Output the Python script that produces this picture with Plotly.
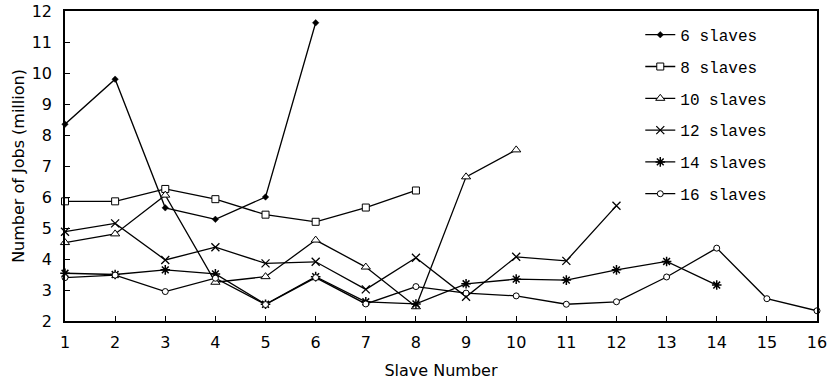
import plotly.graph_objects as go

slave_numbers = list(range(1, 17))
series_names = ["6 slaves", "8 slaves", "10 slaves", "12 slaves", "14 slaves", "16 slaves"]
s6 = [8.35, 9.80, 5.65, 5.28, 6.00, 11.62]
s8 = [5.86, 5.86, 6.26, 5.93, 5.43, 5.20, 5.66, 6.21]
s10 = [4.53, 4.81, 6.06, 3.25, 3.43, 4.61, 3.74, 2.46, 6.65, 7.52]
s12 = [4.88, 5.15, 3.97, 4.38, 3.86, 3.91, 3.02, 4.04, 2.78, 4.07, 3.94, 5.72]
s14 = [3.54, 3.50, 3.65, 3.52, 2.54, 3.43, 2.62, 2.55, 3.20, 3.35, 3.32, 3.65, 3.92, 3.16]
s16 = [3.40, 3.48, 2.95, 3.38, 2.53, 3.40, 2.55, 3.11, 2.90, 2.81, 2.54, 2.62, 3.42, 4.35, 2.72, 2.33]
all_series = [s6, s8, s10, s12, s14, s16]

markers = [
    dict(symbol="diamond", size=5, color="black", line=dict(color="black", width=0.5)),
    dict(symbol="square", size=7, color="white", line=dict(color="black", width=1)),
    dict(symbol="triangle-up", size=8, color="white", line=dict(color="black", width=1)),
    dict(symbol="x-thin-open", size=8, color="black", line=dict(color="black", width=1.3)),
    dict(symbol="asterisk-open", size=8, color="black", line=dict(color="black", width=1.5)),
    dict(symbol="circle", size=6, color="white", line=dict(color="black", width=1)),
]

fig = go.Figure()
for name, vals, mk in zip(series_names, all_series, markers):
    fig.add_trace(go.Scatter(
        x=slave_numbers[:len(vals)], y=vals, name=name, mode="lines+markers",
        line=dict(color="black", width=1.3), marker=mk, cliponaxis=False,
        legendgroup=name,
    ))

fig.update_layout(
    width=828, height=381,
    margin=dict(l=65, r=11, t=11, b=60),
    plot_bgcolor="white", paper_bgcolor="white",
    font=dict(family="DejaVu Sans", size=16, color="black"),
    showlegend=True,
    legend=dict(
        x=0.765, y=0.978, xanchor="left", yanchor="top",
        font=dict(family="Liberation Mono", size=16, color="black"),
        itemwidth=30, traceorder="grouped", tracegroupgap=8,
        bgcolor="rgba(0,0,0,0)", borderwidth=0,
    ),
    xaxis=dict(
        range=[1, 16], tickmode="array", tickvals=slave_numbers,
        ticks="inside", ticklen=5, tickcolor="black", tickwidth=1,
        showline=True, linecolor="black", linewidth=1.5, mirror=True,
        showgrid=False, zeroline=False, automargin=False,
        title=dict(text="Slave Number", standoff=14, font=dict(size=16)),
        tickfont=dict(size=16), ticklabelstandoff=6,
    ),
    yaxis=dict(
        range=[2, 12], dtick=1,
        ticks="inside", ticklen=5, tickcolor="black", tickwidth=1,
        showline=True, linecolor="black", linewidth=1.5, mirror=True,
        showgrid=False, zeroline=False, automargin=False,
        title=dict(text="Number of Jobs (million)", standoff=3, font=dict(size=16)),
        tickfont=dict(size=16), ticklabelstandoff=8,
    ),
)

fig.write_html(
    "out.html",
    config={"displayModeBar": False},
    post_script="document.body.style.margin='0px'; document.body.style.overflow='hidden';",
)
